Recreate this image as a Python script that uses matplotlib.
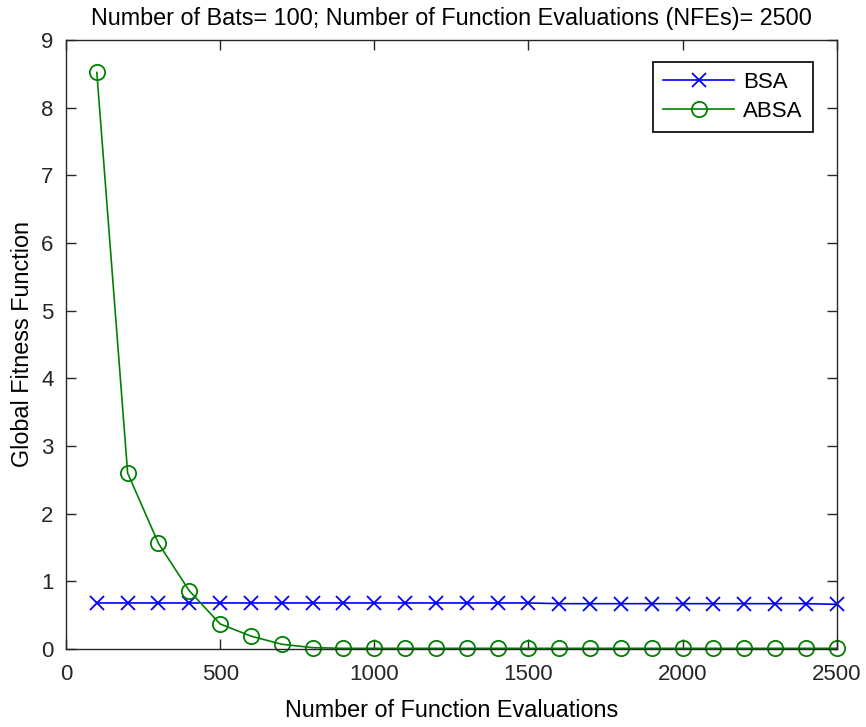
import numpy as np
import matplotlib.pyplot as plt

plt.rcParams['font.family'] = ['Liberation Sans', 'DejaVu Sans']

nfe = np.arange(100, 2600, 100)
bsa = [0.68, 0.68, 0.68, 0.68, 0.68, 0.68, 0.68, 0.68, 0.68, 0.68,
       0.68, 0.68, 0.68, 0.68, 0.68, 0.67, 0.67, 0.67, 0.67, 0.67,
       0.67, 0.67, 0.67, 0.67, 0.66]
absa = [8.52, 2.60, 1.56, 0.86, 0.37, 0.19, 0.07, 0.02, 0.01, 0.01,
        0.01, 0.01, 0.01, 0.01, 0.01, 0.01, 0.01, 0.01, 0.01, 0.01,
        0.01, 0.01, 0.01, 0.01, 0.01]

fig = plt.figure(figsize=(8.66, 7.27), dpi=100)
ax = fig.add_axes([0.0762, 0.1073, 0.890, 0.8377])

ax.plot(nfe, bsa, color='blue', marker='x', markersize=10, markeredgewidth=1.3,
        linewidth=1.2, label='BSA', clip_on=False)
ax.plot(nfe, absa, color='#008000', marker='o', markersize=11, markerfacecolor='none',
        markeredgewidth=1.3, linewidth=1.2, label='ABSA', clip_on=False)

ax.set_xlim(0, 2500)
ax.set_ylim(0, 9)
ax.set_xticks(np.arange(0, 2501, 500))
ax.set_yticks(np.arange(0, 10, 1))
ax.tick_params(direction='in', top=True, right=True, labelsize=16, length=7, width=1,
               colors='#262626')
ax.tick_params(axis='x', pad=11)
ax.tick_params(axis='y', pad=9)
for s in ax.spines.values():
    s.set_color('#262626')
    s.set_linewidth(1)

ax.set_xlabel('Number of Function Evaluations', fontsize=16.8, labelpad=10)
ax.set_ylabel('Global Fitness Function', fontsize=16.8, labelpad=5)
ax.set_title('Number of Bats= 100; Number of Function Evaluations (NFEs)= 2500',
             fontsize=16.8, pad=11)

leg = ax.legend(loc='upper right', bbox_to_anchor=(0.969, 0.964), borderaxespad=0,
                fontsize=16, fancybox=False, edgecolor='black', framealpha=1,
                handlelength=3.2, borderpad=0.45, labelspacing=0.35, handletextpad=0.4)
leg.get_frame().set_linewidth(1.2)

fig.savefig('out.png', dpi=100)
